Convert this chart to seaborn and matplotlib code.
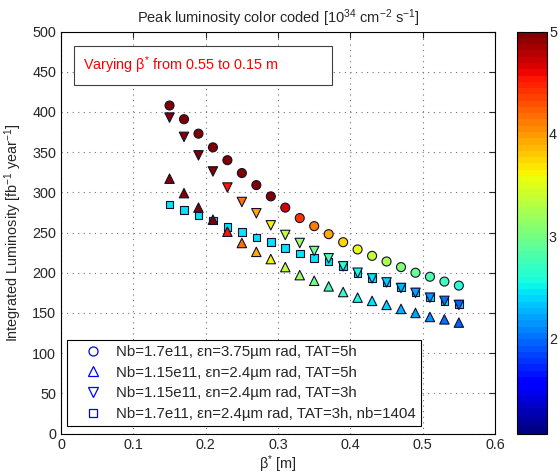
import numpy as np
import pandas as pd
import matplotlib
matplotlib.use("Agg")
import matplotlib.pyplot as plt
import seaborn as sns
from matplotlib.colors import Normalize
from matplotlib.cm import ScalarMappable
from matplotlib.lines import Line2D
from matplotlib.patches import Rectangle

# ---------------- data ----------------
beta = [0.15, 0.17, 0.19, 0.21, 0.23, 0.25, 0.27, 0.29, 0.31, 0.33, 0.35,
        0.37, 0.39, 0.41, 0.43, 0.45, 0.47, 0.49, 0.51, 0.53, 0.55]

lumi_circ = [408, 391, 373, 356, 340, 324, 309, 295, 281, 268, 258,
             248, 238, 229, 221, 214, 207, 200, 195, 189, 184]
peak_circ = [5.0, 5.0, 5.0, 5.0, 5.0, 5.0, 5.0, 5.0, 4.68, 4.39, 4.14,
             3.92, 3.72, 3.54, 3.37, 3.22, 3.09, 2.96, 2.84, 2.74, 2.64]

lumi_up = [317, 299, 281, 266, 251, 237, 226, 217, 207, 197, 190,
           183, 176, 169, 165, 160, 155, 150, 145, 142, 138]
lumi_down = [393, 369, 346, 326, 306, 288, 274, 259, 247, 237, 227,
             218, 208, 200, 193, 188, 181, 175, 169, 165, 160]
peak_tri = [5.0, 5.0, 5.0, 5.0, 4.55, 4.2, 3.9, 3.62, 3.38, 3.18, 3.0,
            2.85, 2.7, 2.57, 2.46, 2.36, 2.27, 2.19, 2.12, 2.05, 1.99]

lumi_sq = [285, 278, 271, 265, 257, 251, 244, 238, 231, 224, 218,
           214, 208, 200, 193, 188, 182, 176, 170, 165, 161]
peak_sq = [2.48] * 21

labels = ["Nb=1.7e11, \u03b5n=3.75\u00b5m rad, TAT=5h",
          "Nb=1.15e11, \u03b5n=2.4\u00b5m rad, TAT=5h",
          "Nb=1.15e11, \u03b5n=2.4\u00b5m rad, TAT=3h",
          "Nb=1.7e11, \u03b5n=2.4\u00b5m rad, TAT=3h, nb=1404"]

clim = (1.07, 5.0)

# ---------------- style ----------------
sns.set_style("white")
plt.rcParams["font.family"] = ["Liberation Sans", "DejaVu Sans"]
plt.rcParams["mathtext.default"] = "regular"
FS = 10.4
plt.rcParams["font.size"] = FS

cmap = plt.get_cmap("jet", 64)
norm = Normalize(*clim)

fig = plt.figure(figsize=(5.6, 4.74), dpi=100)
ax = fig.add_axes([0.109, 0.0854, 0.775, 0.848])
cax = fig.add_axes([0.923, 0.0854, 0.0536, 0.848])

def draw(lumi, peak, marker, s, z):
    df = pd.DataFrame({"beta": beta, "lumi": lumi, "peak": peak})
    sns.scatterplot(data=df, x="beta", y="lumi", hue="peak", palette=cmap,
                    hue_norm=norm, marker=marker, s=s, edgecolor="#101030",
                    linewidth=0.8, legend=False, ax=ax, zorder=z)

draw(lumi_sq, peak_sq, "s", 30, 3)
draw(lumi_circ, peak_circ, "o", 42, 4)
draw(lumi_up, peak_tri, "^", 46, 5)
draw(lumi_down, peak_tri, "v", 46, 6)

ax.set_xlim(0, 0.6)
ax.set_ylim(0, 500)
ax.set_xticks([0, 0.1, 0.2, 0.3, 0.4, 0.5, 0.6])
ax.set_xticklabels(["0", "0.1", "0.2", "0.3", "0.4", "0.5", "0.6"])
ax.set_yticks(range(0, 501, 50))
ax.grid(True, color="0.45", linestyle=(0, (1, 4)), linewidth=0.8)
ax.tick_params(direction="in", top=True, right=True, length=4, width=0.8,
               labelsize=FS, pad=3.5)
for sp in ax.spines.values():
    sp.set_color("black")
    sp.set_linewidth(0.8)

ax.set_xlabel(r"β$^{*}$ [m]", fontsize=FS, labelpad=1)
ax.set_ylabel(r"Integrated Luminosity [fb$^{-1}$ year$^{-1}$]", fontsize=FS,
              labelpad=6)
ax.set_title(r"Peak luminosity color coded [10$^{34}$ cm$^{-2}$ s$^{-1}$]",
             fontsize=10.5, pad=6)

ax.text(0.03, 458, r"Varying β$^{*}$ from 0.55 to 0.15 m", color="red",
        fontsize=10.4, va="center", ha="left", zorder=10)
ax.add_patch(Rectangle((0.0186, 433.5), 0.356, 48.5, fc="white", ec="0.25",
                       lw=0.8, zorder=9))

handles = [Line2D([], [], ls="none", marker=m, markersize=ms, mfc="none",
                  mec="blue", mew=0.9)
           for m, ms in [("o", 6.5), ("^", 7), ("v", 7), ("s", 5.5)]]
leg = ax.legend(handles, labels, loc="lower left",
                bbox_to_anchor=(0.0138, 0.0187), frameon=True, fancybox=False,
                edgecolor="black", framealpha=1, fontsize=10.8,
                handlelength=2.8, handletextpad=0.15, borderpad=0.32,
                labelspacing=0.45, borderaxespad=0)
leg.get_frame().set_linewidth(0.8)
leg.set_zorder(20)

sm = ScalarMappable(norm=norm, cmap=cmap)
cb = fig.colorbar(sm, cax=cax)
cb.set_ticks([2, 3, 4, 5])
cb.ax.tick_params(direction="in", length=4, width=0.8, labelsize=FS,
                  left=True, right=True, pad=1.5)
cb.outline.set_linewidth(0.8)
cb.outline.set_edgecolor("black")

fig.savefig("out.png", dpi=100)
